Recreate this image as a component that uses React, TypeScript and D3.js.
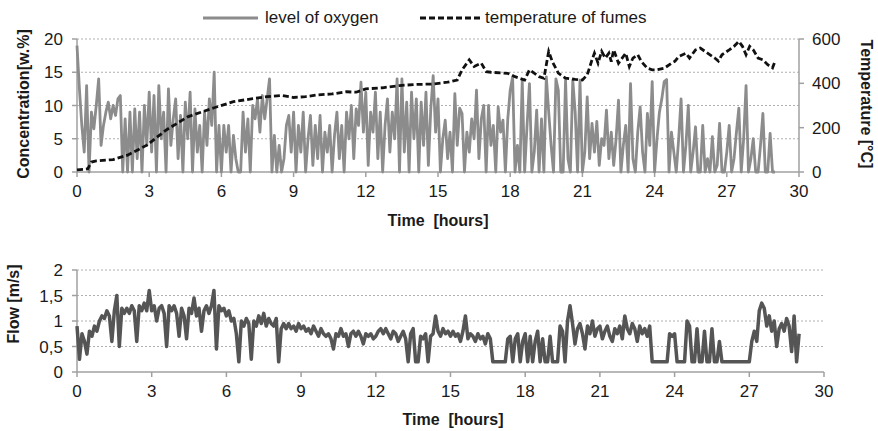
import * as d3 from "d3";

// oxygen level [w.%], one reading every 0.1 h from 0 to 29 h
const oxygen = [
  19, 12.5, 7, 3, 13, 0, 9, 6.5, 10, 14,
  4, 7, 9, 10.5, 8, 10, 8.5, 11, 11.5, 0,
  8, 0, 9, 0, 9.5, 2, 9, 0, 10, 4,
  12, 3, 11.5, 0, 13, 5, 9, 0, 12.5, 4,
  8, 11, 2, 8.5, 0, 10.5, 5, 12, 0, 9.5,
  3, 7, 0, 9, 4, 11, 7, 15, 0, 7,
  0, 7, 3, 7, 0, 5.5, 2, 0, 0, 9,
  3, 8, 0, 10, 8, 11, 6, 11.5, 8, 11,
  14, 0, 5.5, 0, 4, 0, 2, 7, 8.5, 3,
  9, 0, 7, 3, 9, 0, 5, 8.5, 1, 7,
  2, 8.5, 0, 6, 3, 7, 0, 5.5, 9, 2,
  7, 0, 9, 5, 10, 2, 9.5, 7, 13.5, 6,
  12, 1, 9, 6, 12, 2, 9, 0, 7, 11,
  3, 9, 5, 14, 0, 14, 3, 10.5, 0, 12,
  5, 11, 0, 10.5, 4, 12, 1, 9.5, 14.5, 6,
  11, 0, 5, 7.8, 2, 6, 0, 11.8, 4, 9.6,
  8.8, 0, 6, 3, 8, 5, 12.3, 2, 8, 10,
  0, 10, 4, 7, 0, 9.8, 6, 7.8, 0, 8,
  12.3, 14.3, 0, 4, 0, 13.8, 0, 7, 13.3, 0,
  3, 9.3, 0, 8, 0, 14.3, 9, 4, 0, 14,
  12.3, 0, 0, 13.8, 2, 0, 13.8, 9, 0, 13.8,
  0, 3, 11.3, 2, 7.3, 3, 7.6, 1, 5, 4,
  9.3, 2, 6, 1, 5, 10.8, 0, 4, 7, 0,
  13.3, 2, 0, 6, 9.8, 3, 0, 8.8, 4, 13.6,
  0, 5, 9, 11, 13.6, 13.9, 0, 6, 3, 0,
  5, 11, 0, 4, 10, 0, 3, 6.8, 0, 0,
  7, 0, 2, 0, 5.3, 0, 1, 7.3, 0, 0,
  3, 7, 0, 2, 6, 9.6, 0, 5, 13, 0,
  2, 5, 0, 0, 4, 8.8, 0, 0, 5.8, 0,
  0,
];

// temperature of fumes [°C]
const tempTime = [0, 0.3, 0.45, 0.6, 0.8, 1.5, 2.1, 2.9, 3.7, 4.6, 5.7, 6.5, 7.3, 7.9, 8.5, 9.0, 9.5, 10.0, 10.6, 11.2, 11.6, 12.0, 12.7, 13.4, 14.1, 14.8, 15.4, 15.8, 16.0, 16.3, 16.5, 16.8, 17.0, 17.2, 17.9, 18.2, 18.6, 18.8, 19.2, 19.4, 19.6, 19.75, 20.0, 20.3, 20.7, 21.0, 21.2, 21.4, 21.5, 21.65, 21.8, 21.95, 22.1, 22.2, 22.3, 22.5, 22.8, 22.95, 23.1, 23.3, 23.45, 23.7, 23.9, 24.1, 24.4, 24.7, 24.85, 25.0, 25.3, 25.45, 25.7, 25.9, 26.2, 26.5, 26.65, 26.8, 27.1, 27.3, 27.5, 27.65, 27.8, 27.95, 28.1, 28.3, 28.5, 28.7, 28.9, 29.0];
const tempValue = [10, 12, 15, 45, 50, 56, 76, 121, 189, 249, 290, 317, 331, 340, 345, 336, 340, 348, 352, 362, 360, 375, 380, 390, 395, 397, 405, 415, 461, 506, 476, 491, 453, 450, 445, 430, 415, 461, 430, 423, 544, 498, 446, 423, 418, 415, 438, 506, 536, 491, 544, 514, 536, 498, 551, 491, 536, 476, 514, 529, 498, 468, 461, 461, 468, 491, 500, 521, 536, 514, 551, 559, 536, 514, 500, 529, 551, 567, 589, 567, 529, 567, 551, 514, 506, 484, 470, 498];

// flow [m/s], one reading every 0.1 h
const flow = [
  0.9, 0.25, 0.75, 0.6, 0.35, 0.8, 0.7, 0.9, 0.8, 1.0,
  1.1, 1.05, 1.2, 1.1, 0.6, 1.2, 1.5, 0.5, 1.25, 1.15,
  1.25, 1.15, 1.3, 1.2, 0.6, 1.3, 1.2, 1.35, 1.2, 1.6,
  1.2, 1.3, 1.0, 1.25, 1.3, 1.15, 0.5, 1.3, 1.2, 1.3,
  1.15, 0.7, 1.25, 1.1, 0.65, 1.25, 1.15, 1.45, 1.1, 1.25,
  0.8, 1.2, 1.3, 1.15, 1.3, 1.6, 0.45, 1.3, 1.2, 1.25,
  1.1, 1.2, 1.0, 1.05, 0.75, 0.2, 1.0, 0.9, 1.05, 0.95,
  0.25, 1.0, 0.9, 1.1, 0.95, 1.15, 0.9, 1.05, 0.95, 0.9,
  1.05, 0.2, 0.85, 0.95, 0.85, 0.95, 0.85, 0.9, 0.8, 0.95,
  0.85, 0.9, 0.8, 0.85, 0.75, 0.9, 0.8, 0.7, 0.85, 0.75,
  0.7, 0.75, 0.65, 0.45, 0.75, 0.7, 0.85, 0.7, 0.75, 0.5,
  0.75, 0.8, 0.7, 0.8, 0.7, 0.55, 0.75, 0.7, 0.75, 0.65,
  0.7, 0.8, 0.85, 0.75, 0.85, 0.75, 0.65, 0.8, 0.75, 0.6,
  0.7, 0.8, 0.65, 0.2, 0.75, 0.85, 0.2, 0.2, 0.7, 0.65,
  0.75, 0.2, 0.7, 0.75, 1.1, 0.8, 0.7, 0.85, 0.75, 0.8,
  0.7, 0.8, 0.7, 0.75, 0.6, 0.8, 1.1, 0.65, 0.75, 0.7,
  0.6, 0.75, 0.65, 0.7, 0.55, 0.75, 0.65, 0.2, 0.2, 0.2,
  0.2, 0.2, 0.2, 0.65, 0.7, 0.2, 0.65, 0.75, 0.2, 0.6,
  0.75, 0.2, 0.7, 0.2, 0.6, 0.8, 0.2, 0.65, 0.2, 0.2,
  0.7, 0.2, 0.2, 0.2, 0.9, 0.8, 0.2, 1.0, 1.3, 0.95,
  0.55, 0.85, 0.95, 0.75, 0.45, 0.9, 0.75, 1.0, 0.7, 0.85,
  0.9, 0.65, 0.8, 0.9, 0.7, 0.6, 0.85, 0.75, 0.9, 0.65,
  1.1, 0.85, 0.75, 0.95, 0.85, 0.6, 0.9, 0.75, 0.85, 0.7,
  0.9, 0.2, 0.2, 0.2, 0.2, 0.2, 0.2, 0.2, 0.75, 0.7,
  0.75, 0.2, 0.2, 0.2, 0.2, 1.0, 0.9, 0.2, 0.2, 0.85,
  0.2, 0.2, 0.8, 0.2, 0.2, 0.85, 0.2, 0.2, 0.6, 0.2,
  0.2, 0.2, 0.2, 0.2, 0.2, 0.2, 0.2, 0.2, 0.2, 0.2,
  0.2, 0.6, 0.8, 0.6, 1.2, 1.35, 1.25, 0.9, 1.1, 0.8,
  1.0, 0.5, 0.85, 0.95, 0.8, 1.05, 0.9, 0.4, 1.1, 0.2,
  0.75,
];

const timeTicks = [0, 3, 6, 9, 12, 15, 18, 21, 24, 27, 30];
const concTicks = [0, 5, 10, 15, 20];
const tempTicks = [0, 200, 400, 600];
const flowTicks = [0, 0.5, 1, 1.5, 2];

const font = "'Liberation Sans', Arial, sans-serif";
const axisColor = "#a0a0a0";
const gridColor = "#b0b0b0";
const textColor = "#1a1a1a";

export default function App() {
  const width = 878;
  const height = 431;

  // top chart scales
  const x1 = d3.scaleLinear([0, 30], [77, 799]);
  const yC = d3.scaleLinear([0, 20], [172, 39]);
  const yT = d3.scaleLinear([0, 600], [172, 39]);
  // bottom chart scales
  const x2 = d3.scaleLinear([0, 30], [77, 824]);
  const yF = d3.scaleLinear([0, 2], [372, 270]);

  const oxLine = d3.line<number>((d, i) => x1(i * 0.1), (d) => yC(d));
  const tLine = d3.line<number>((d, i) => x1(tempTime[i]), (d) => yT(d));
  const flLine = d3.line<number>((d, i) => x2(i * 0.1), (d) => yF(d));

  return (
    <svg width={width} height={height} style={{ position: "absolute", left: 0, top: 0, background: "#fff" }} fontFamily={font}>
      {/* legend */}
      <line x1={203} x2={258} y1={18} y2={18} stroke="#8c8c8c" strokeWidth={3} />
      <text x={265} y={23} fontSize={17} fill={textColor}>level of oxygen</text>
      <line x1={420} x2={481} y1={18} y2={18} stroke="#111" strokeWidth={2.8} strokeDasharray="6,3" />
      <text x={485} y={23} fontSize={17} fill={textColor}>temperature of fumes</text>

      {/* top chart grid */}
      {concTicks.filter((t) => t > 0).map((t) => (
        <line key={"gc" + t} x1={x1(0)} x2={x1(30)} y1={yC(t)} y2={yC(t)} stroke={gridColor} strokeDasharray="2,2" />
      ))}
      {/* top chart axes */}
      <line x1={x1(0)} x2={x1(0)} y1={yC(0)} y2={yC(20)} stroke={axisColor} strokeWidth={1.5} />
      <line x1={x1(30)} x2={x1(30)} y1={yC(0)} y2={yC(20)} stroke={axisColor} strokeWidth={1.5} />
      <line x1={x1(0)} x2={x1(30)} y1={yC(0)} y2={yC(0)} stroke={axisColor} strokeWidth={1.5} />
      {timeTicks.map((t) => (
        <g key={"tx1" + t}>
          <line x1={x1(t)} x2={x1(t)} y1={yC(0)} y2={yC(0) + 5} stroke={axisColor} strokeWidth={1.5} />
          <text x={x1(t)} y={197} fontSize={17} textAnchor="middle" fill={textColor}>{t}</text>
        </g>
      ))}
      {concTicks.map((t) => (
        <g key={"tc" + t}>
          <line x1={x1(0) - 5} x2={x1(0)} y1={yC(t)} y2={yC(t)} stroke={axisColor} strokeWidth={1.5} />
          <text x={63} y={yC(t) + 6} fontSize={17} textAnchor="end" fill={textColor}>{t}</text>
        </g>
      ))}
      {tempTicks.map((t) => (
        <g key={"tt" + t}>
          <line x1={x1(30)} x2={x1(30) + 5} y1={yT(t)} y2={yT(t)} stroke={axisColor} strokeWidth={1.5} />
          <text x={812} y={yT(t) + 6} fontSize={17} fill={textColor}>{t}</text>
        </g>
      ))}
      <path d={oxLine(oxygen) ?? ""} fill="none" stroke="#8c8c8c" strokeWidth={2.8} strokeLinejoin="round" />
      <path d={tLine(tempValue) ?? ""} fill="none" stroke="#111" strokeWidth={2.8} strokeDasharray="6,3" />

      <text transform="translate(29,104) rotate(-90)" fontSize={16} fontWeight="bold" textAnchor="middle" fill={textColor}>Concentration[w.%]</text>
      <text transform="translate(861,104) rotate(90)" fontSize={16} fontWeight="bold" textAnchor="middle" fill={textColor}>Temperature [°C]</text>
      <text x={438} y={226} fontSize={16} fontWeight="bold" textAnchor="middle" fill={textColor} style={{ whiteSpace: "pre" }}>Time  [hours]</text>

      {/* bottom chart grid */}
      {flowTicks.filter((t) => t > 0).map((t) => (
        <line key={"gf" + t} x1={x2(0)} x2={x2(30)} y1={yF(t)} y2={yF(t)} stroke={gridColor} strokeDasharray="2,2" />
      ))}
      <line x1={x2(0)} x2={x2(0)} y1={yF(0)} y2={yF(2)} stroke={axisColor} strokeWidth={1.5} />
      <line x1={x2(0)} x2={x2(30)} y1={yF(0)} y2={yF(0)} stroke={axisColor} strokeWidth={1.5} />
      {timeTicks.map((t) => (
        <g key={"tx2" + t}>
          <line x1={x2(t)} x2={x2(t)} y1={yF(0)} y2={yF(0) + 5} stroke={axisColor} strokeWidth={1.5} />
          <text x={x2(t)} y={397} fontSize={17} textAnchor="middle" fill={textColor}>{t}</text>
        </g>
      ))}
      {flowTicks.map((t) => (
        <g key={"tf" + t}>
          <line x1={x2(0) - 5} x2={x2(0)} y1={yF(t)} y2={yF(t)} stroke={axisColor} strokeWidth={1.5} />
          <text x={63} y={yF(t) + 6} fontSize={17} textAnchor="end" fill={textColor}>{String(t).replace(".", ",")}</text>
        </g>
      ))}
      <path d={flLine(flow) ?? ""} fill="none" stroke="#555" strokeWidth={3.5} strokeLinejoin="round" />

      <text transform="translate(19,304) rotate(-90)" fontSize={16} fontWeight="bold" textAnchor="middle" fill={textColor}>Flow [m/s]</text>
      <text x={453} y={425} fontSize={16} fontWeight="bold" textAnchor="middle" fill={textColor} style={{ whiteSpace: "pre" }}>Time  [hours]</text>
    </svg>
  );
}
